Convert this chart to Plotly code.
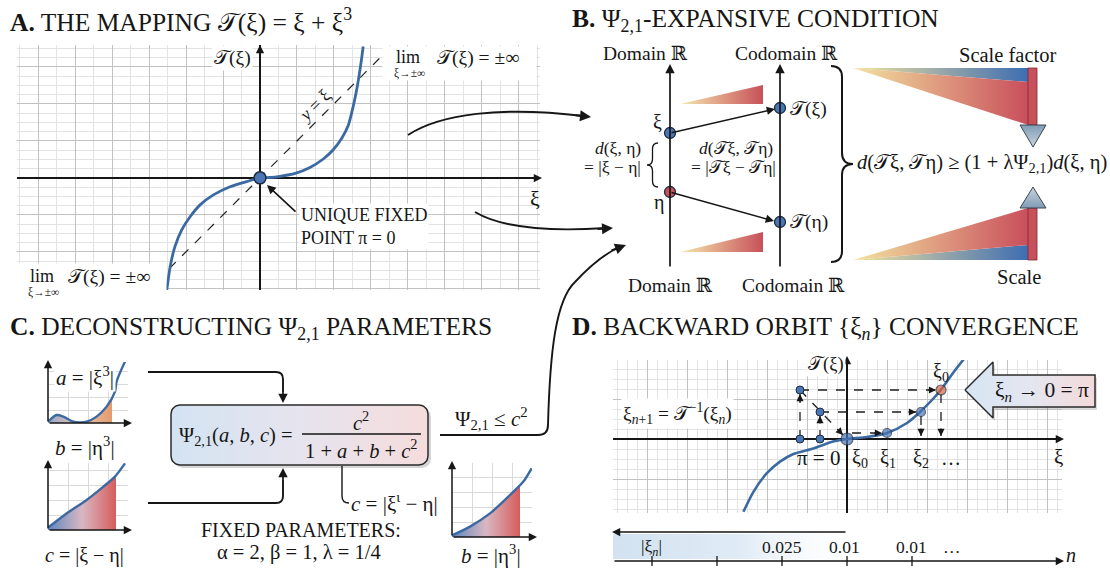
import numpy as np
import plotly.graph_objects as go

W, H = 1110, 568
SERIF = "Liberation Serif, Times New Roman, DejaVu Serif, serif"
INK = "#161616"
CURVE = "#3b6aa3"
PT_BLUE = "#4a76b3"
PT_RED = "#c65257"
PT_ORANGE = "#d9653f"
EDGE = "#1d2a45"
TS = "𝒯"

# ------------------------------------------------------------------ data
# Panel A : the mapping T(xi) (1 unit = one major grid square)
a_xi = [-2.52, -2.43, -2.30, -2.12, -1.89, -1.62, -1.26, -0.81, -0.36, 0.0,
        0.27, 0.54, 0.95, 1.35, 1.71, 1.98, 2.21, 2.39, 2.52, 2.63, 2.73, 2.79]
a_T = [-3.03, -2.40, -1.86, -1.41, -1.05, -0.73, -0.46, -0.24, -0.10, 0.0,
       0.01, 0.04, 0.12, 0.28, 0.51, 0.76, 1.07, 1.43, 1.93, 2.47, 3.10, 3.55]
a_diag_xi = [-2.45, 3.45]
a_diag_y = [-2.45, 3.45]
a_fixed_xi = [0.0]
a_fixed_T = [0.0]

# Panel C : three small parameter sketches
c1_x = [0.0, 0.43, 0.77, 1.27, 1.93, 2.43, 2.93, 3.35, 3.43, 3.85]
c1_y = [0.07, 0.40, 0.32, 0.07, 0.07, 0.32, 0.82, 1.57, 2.07, 3.07]
c1_fill_x = [0.0, 0.43, 0.77, 1.27, 1.93, 2.43, 2.93, 3.2]
c1_fill_y = [0.07, 0.40, 0.32, 0.07, 0.07, 0.32, 0.82, 1.25]
c2_x = [0.0, 0.93, 1.93, 2.77, 3.35, 3.85]
c2_y = [0.12, 0.83, 1.50, 2.17, 2.67, 3.33]
c2_fill_x = [0.0, 0.93, 1.93, 2.77, 3.35, 3.4]
c2_fill_y = [0.12, 0.83, 1.50, 2.17, 2.67, 2.72]
c3_x = [0.0, 0.9, 1.9, 2.9, 3.57, 3.98]
c3_y = [0.08, 0.52, 1.18, 2.10, 2.77, 3.43]
c3_fill_x = [0.0, 0.9, 1.9, 2.9, 3.4]
c3_fill_y = [0.08, 0.52, 1.18, 2.10, 2.58]

# Panel D : curve and backward orbit
d_xi = [-5.18, -4.68, -4.02, -3.35, -2.68, -1.68, -0.7, 0.0, 1.0, 2.0, 3.0, 3.65, 4.65, 5.3, 6.0]
d_T = [-3.64, -2.64, -1.72, -1.13, -0.75, -0.47, -0.13, 0.0, 0.10, 0.30, 0.80, 1.35, 2.40, 3.30, 4.20]
orbit_xi = [0.0, 2.0, 3.7, 4.7]          # pi=xi0, xi1, xi2, xi0(start)
orbit_T = [0.0, 0.3, 1.35, 2.45]
back_xi = [-2.35, -1.35]                 # pre-images on the left
back_T = [2.45, 1.35]
d_scale_labels = ["|ξ<sub><i>n</i></sub>|", "0.025", "0.01", "0.01", "…"]

# ------------------------------------------------------------------ helpers
fig = go.Figure()
annotations, shapes = [], []


def ann(x, y, text, size=19, xanchor="center", yanchor="middle", bg=None, angle=0,
        color=INK, xr="x6", yr="y6", align="center"):
    d = dict(x=x, y=y, xref=xr, yref=yr, text=text, showarrow=False, align=align,
             font=dict(family=SERIF, size=size, color=color),
             xanchor=xanchor, yanchor=yanchor, textangle=angle, borderpad=1)
    if bg:
        d["bgcolor"] = bg
    annotations.append(d)


def box(x0, y0, x1, y1, color="white"):
    annotations.append(dict(x=(x0 + x1) / 2, y=(y0 + y1) / 2, xref="x6", yref="y6", text=" ",
                            showarrow=False, width=x1 - x0, height=y1 - y0, bgcolor=color,
                            borderpad=0, font=dict(size=4)))


def arrow(x0, y0, x1, y1, width=1.5, head=2, size=1.1, color=INK, xr="x6", yr="y6"):
    annotations.append(dict(x=x1, y=y1, ax=x0, ay=y0, xref=xr, yref=yr, axref=xr, ayref=yr,
                            text="", showarrow=True, arrowhead=head, arrowsize=size,
                            arrowwidth=width, arrowcolor=color, standoff=0, startstandoff=0))


def path(d, w=1.9, color=INK, fill=None):
    s = dict(type="path", path=d, xref="x6", yref="y6", line=dict(color=color, width=w))
    if fill:
        s["fillcolor"] = fill
    shapes.append(s)


def line(x0, y0, x1, y1, w=1.5, color=INK):
    shapes.append(dict(type="line", x0=x0, y0=y0, x1=x1, y1=y1, xref="x6", yref="y6",
                       line=dict(color=color, width=w)))


def poly(xs, ys, c0, c1, orient="horizontal", lc=None, lw=0, mid=None):
    cs = [[0, c0], [1, c1]] if mid is None else [[0, c0], [0.5, mid], [1, c1]]
    fig.add_trace(go.Scatter(x=xs, y=ys, xaxis="x6", yaxis="y6", mode="lines", fill="toself",
                             fillgradient=dict(type=orient, colorscale=cs),
                             line=dict(color=lc or "rgba(0,0,0,0)", width=lw),
                             hoverinfo="skip", showlegend=False))


def brace(x0, y1, y2, w, r):
    xs = x0 + w / 2
    xt = x0 + w
    ym = (y1 + y2) / 2
    return (f"M{x0},{y1} Q{xs},{y1} {xs},{y1 + r} L{xs},{ym - r} Q{xs},{ym} {xt},{ym} "
            f"Q{xs},{ym} {xs},{ym + r} L{xs},{y2 - r} Q{xs},{y2} {x0},{y2}")


def rrect(x0, y0, x1, y1, r, n=9):
    xs, ys = [], []
    for cx, cy, t0, t1 in [(x1 - r, y0 + r, -90, 0), (x1 - r, y1 - r, 0, 90),
                           (x0 + r, y1 - r, 90, 180), (x0 + r, y0 + r, 180, 270)]:
        for t in np.linspace(t0, t1, n):
            xs.append(cx + r * np.cos(np.radians(t)))
            ys.append(cy + r * np.sin(np.radians(t)))
    xs.append(xs[0]); ys.append(ys[0])
    return xs, ys


TITLE = 25.5

# ------------------------------------------------------------------ panel A
fig.add_trace(go.Scatter(x=a_diag_xi, y=a_diag_y, xaxis="x", yaxis="y", mode="lines",
                         line=dict(color="#222", width=1.2, dash="dash"), showlegend=False))
fig.add_trace(go.Scatter(x=a_xi, y=a_T, xaxis="x", yaxis="y", mode="lines",
                         line=dict(color=CURVE, width=2.8, shape="spline", smoothing=0.5),
                         showlegend=False))
fig.add_trace(go.Scatter(x=a_fixed_xi, y=a_fixed_T, xaxis="x", yaxis="y", mode="markers",
                         marker=dict(size=12, color=PT_BLUE, line=dict(color=EDGE, width=1.5)),
                         showlegend=False))

ann(8, 20, f"<b>A.</b> THE MAPPING {TS}(ξ) = ξ + ξ<sup>3</sup>", size=TITLE, xanchor="left")
arrow(260, 62, 260, 45)
arrow(522, 178, 542, 178)
ann(232, 58, f"{TS}(ξ)", size=19.5, bg="white")
ann(535, 198, "ξ", size=22)
ann(314, 106, "<i>y</i> = ξ", size=18, angle=-45)
box(383, 47, 536, 80)
ann(408, 57, "lim", size=18)
ann(409, 73, "ξ→±∞", size=11.5)
ann(435, 58, f"{TS}(ξ) = ±∞", size=19.5, xanchor="left")
box(17, 264, 166, 299)
ann(42, 276, "lim", size=18)
ann(43, 292, "ξ→±∞", size=11.5)
ann(66, 277, f"{TS}(ξ) = ±∞", size=19.5, xanchor="left")
ann(299, 226, "UNIQUE FIXED<br>POINT π = 0", size=18, xanchor="left", bg="white",
    align="left")
arrow(297, 213, 267, 185, width=1.6)
# curved connectors A -> B
path("M408,135 C440,114 500,106 584,116")
arrow(574, 115, 591, 117, width=2)
path("M475,212 C500,227 545,232 606,228")
arrow(596, 229, 613, 228, width=2)

# ------------------------------------------------------------------ panel B
ann(570, 20, "<b>B.</b> Ψ<sub>2,1</sub>-EXPANSIVE CONDITION", size=TITLE, xanchor="left")
ann(645, 53, "Domain ℝ", size=19.5)
ann(786, 53, "Codomain ℝ", size=19.5)
ann(670, 285, "Domain ℝ", size=19.5)
ann(793, 285, "Codomain ℝ", size=19.5)
arrow(670, 268, 670, 64, width=1.7)
arrow(780, 268, 780, 64, width=1.7)
poly([680, 763, 763, 680], [104, 85, 104, 104], "#f6e9ae", "#c8505a")
poly([680, 763, 763, 680], [252, 232, 252, 252], "#f6e9ae", "#c8505a")
arrow(670, 133, 775, 109, width=1.5)
arrow(670, 192, 774, 221, width=1.5)
fig.add_trace(go.Scatter(x=[670, 670, 780, 780], y=[133, 192, 108, 222], xaxis="x6", yaxis="y6",
                         mode="markers", hoverinfo="skip", showlegend=False,
                         marker=dict(size=11, color=[PT_BLUE, PT_RED, PT_BLUE, PT_BLUE],
                                     line=dict(color=EDGE, width=1.3))))
ann(657, 122, "ξ", size=20)
ann(659, 202, "η", size=20)
ann(788, 109, f"{TS}(ξ)", size=19.5, xanchor="left")
ann(788, 222, f"{TS}(η)", size=19.5, xanchor="left")
ann(643, 148, "<i>d</i>(ξ, η)", size=17.5, xanchor="right")
ann(643, 167, "= |ξ − η|", size=17.5, xanchor="right")
path(brace(658, 143, 187, -11, 6), w=1.3)
ann(736, 148, f"<i>d</i>({TS}ξ, {TS}η)", size=17.5)
ann(733, 167, f"= |{TS}ξ − {TS}η|", size=17.5)
path(brace(831, 66, 262, 22, 11), w=2.0)
ann(855, 163, f"<i>d</i>({TS}ξ, {TS}η) ≥ (1 + λΨ<sub>2,1</sub>)<i>d</i>(ξ, η)", size=20.5,
    xanchor="left")
# scale-factor wedges
poly([853, 1028, 1028, 853], [68, 68, 82, 68], "#f3e3a0", "#3e6db2")
poly([853, 1028, 1028, 853], [68, 82, 125, 68], "#f3e3a0", "#c94f5c")
poly([1028, 1037, 1037, 1028, 1028], [68, 68, 125, 125, 68], "#c8505a", "#c8505a", lc="#7a2a30", lw=0.8)
poly([1020, 1046, 1033, 1020], [125, 125, 147, 125], "#c9d4dd", "#7f9cb6", orient="vertical",
     lc="#3c4650", lw=1)
poly([853, 1028, 1028, 853], [260, 260, 245, 260], "#f3e3a0", "#3e6db2")
poly([853, 1028, 1028, 853], [260, 245, 208, 260], "#f3e3a0", "#c94f5c")
poly([1028, 1037, 1037, 1028, 1028], [208, 208, 260, 260, 208], "#c8505a", "#c8505a", lc="#7a2a30", lw=0.8)
poly([1020, 1046, 1033, 1020], [208, 208, 187, 208], "#7f9cb6", "#c9d4dd", orient="vertical",
     lc="#3c4650", lw=1)
ann(1007, 55, "Scale factor", size=20.5)
ann(1019, 277, "Scale", size=20.5)

# ------------------------------------------------------------------ panel C
ann(8, 328, "<b>C.</b> DECONSTRUCTING Ψ<sub>2,1</sub> PARAMETERS", size=TITLE, xanchor="left")
for xs, ys, fx, fy, xa, ya, c0, cm, c1 in [
        (c1_x, c1_y, c1_fill_x, c1_fill_y, "x3", "y3", "#9aa6cc", "#e9c8b0", "#e49a6c"),
        (c2_x, c2_y, c2_fill_x, c2_fill_y, "x4", "y4", "#5f87be", "#d9b7c2", "#d75c5c"),
        (c3_x, c3_y, c3_fill_x, c3_fill_y, "x5", "y5", "#5f87be", "#d9b7c2", "#d75c5c")]:
    fig.add_trace(go.Scatter(x=fx, y=fy, xaxis=xa, yaxis=ya, mode="lines", fill="tozeroy",
                             fillgradient=dict(type="horizontal",
                                               colorscale=[[0, c0], [0.5, cm], [1, c1]]),
                             line=dict(width=0, color="rgba(0,0,0,0)", shape="spline"),
                             hoverinfo="skip", showlegend=False))
    fig.add_trace(go.Scatter(x=xs, y=ys, xaxis=xa, yaxis=ya, mode="lines",
                             line=dict(color=CURVE, width=2.4, shape="spline", smoothing=0.8),
                             hoverinfo="skip", showlegend=False))
arrow(48, 423, 132, 423, width=1.5)
arrow(48, 423, 48, 360, width=1.5)
arrow(48, 530, 132, 530, width=1.5)
arrow(48, 530, 48, 460, width=1.5)
arrow(452, 537, 537, 537, width=1.5)
arrow(452, 537, 452, 461, width=1.5)
ann(85, 376, "<i>a</i> = |ξ<sup>3</sup>|", size=21, bg="white")
ann(85, 446, "<i>b</i> = |η<sup>3</sup>|", size=21)
ann(84, 555, "<i>c</i> = |ξ − η|", size=20)
ann(491, 554, "<i>b</i> = |η<sup>3</sup>|", size=21)
# connectors into the box
path("M148,372 L276,372 Q283,372 283,379 L283,392")
arrow(283, 390, 283, 403, width=1.7)
path("M148,503 L276,503 Q283,503 283,496 L283,480")
arrow(283, 482, 283, 468, width=1.7)
# formula box
sx, sy = rrect(174, 408, 431, 468, 9)
fig.add_trace(go.Scatter(x=sx, y=sy, xaxis="x6", yaxis="y6", mode="lines", fill="toself",
                         fillcolor="rgba(0,0,0,0.16)", line=dict(width=0, color="rgba(0,0,0,0)"),
                         hoverinfo="skip", showlegend=False))
bx, by = rrect(171, 405, 428, 465, 9)
poly(bx, by, "#d3e3f2", "#f5dcdc", lc="#2b2b2b", lw=1.5, mid="#e6e4ee")
ann(236, 436, "Ψ<sub>2,1</sub>(<i>a</i>, <i>b</i>, <i>c</i>) =", size=20.5)
ann(361, 421, "<i>c</i><sup>2</sup>", size=20.5)
line(302, 434, 421, 434, w=1.3)
ann(361, 449, "1 + <i>a</i> + <i>b</i> + <i>c</i><sup>2</sup>", size=20.5)
path("M342,466 L342,496 Q342,503 349,503", w=1.4)
ann(349, 502, "<i>c</i> = |ξ<sup>ι</sup> − η|", size=21, xanchor="left")
ann(301, 530, "FIXED PARAMETERS:", size=20)
ann(299, 552, "α = 2, β = 1, λ = 1/4", size=20.5)
ann(491, 418, "Ψ<sub>2,1</sub> ≤ <i>c</i><sup>2</sup>", size=21)
path("M440,435 L538,435 Q548,435 548,425 C550,350 556,300 575,282 C590,266 604,254 618,248")
arrow(610, 251, 626, 245, width=2)

# ------------------------------------------------------------------ panel D
ann(570, 328, "<b>D.</b> BACKWARD ORBIT {ξ<sub><i>n</i></sub>} CONVERGENCE", size=TITLE, xanchor="left")
fig.add_trace(go.Scatter(x=d_xi, y=d_T, xaxis="x2", yaxis="y2", mode="lines",
                         line=dict(color=CURVE, width=2.6, shape="spline", smoothing=0.7),
                         hoverinfo="skip", showlegend=False))
DASH = dict(color="#1e1e1e", width=1.3, dash="dash")


def dseg(x0, y0, x1, y1, head=True):
    fig.add_trace(go.Scatter(x=[x0, x1], y=[y0, y1], xaxis="x2", yaxis="y2", mode="lines",
                             line=DASH, hoverinfo="skip", showlegend=False))
    if head:
        L = np.hypot(x1 - x0, y1 - y0)
        ux, uy = (x1 - x0) / L, (y1 - y0) / L
        arrow(x1 - 0.45 * ux, y1 - 0.45 * uy, x1, y1, width=1.3, xr="x2", yr="y2")


# horizontals from pre-images to the orbit points on the curve
dseg(back_xi[0], back_T[0], orbit_xi[3] - 0.25, orbit_T[3])
dseg(back_xi[1], back_T[1], orbit_xi[2] - 0.25, orbit_T[2])
dseg(orbit_xi[0] + 0.25, orbit_T[1], orbit_xi[1] - 0.25, orbit_T[1])
# verticals on the left (up) and right (down)
dseg(back_xi[0], 0, back_xi[0], back_T[0] - 0.2)
dseg(back_xi[1], 0, back_xi[1], back_T[1] - 0.2)
dseg(orbit_xi[2], orbit_T[2] - 0.2, orbit_xi[2], 0.15)
dseg(orbit_xi[3], orbit_T[3] - 0.2, orbit_xi[3], 0.15)
# diagonal towards the fixed point
dseg(back_xi[0], back_T[0], orbit_xi[0] - 0.2, orbit_T[0] + 0.2)
fig.add_trace(go.Scatter(x=back_xi + back_xi, y=back_T + [0, 0], xaxis="x2", yaxis="y2",
                         mode="markers", hoverinfo="skip", showlegend=False,
                         marker=dict(size=8, color=PT_BLUE, line=dict(color=EDGE, width=1))))
fig.add_trace(go.Scatter(x=orbit_xi, y=orbit_T, xaxis="x2", yaxis="y2", mode="markers",
                         hoverinfo="skip", showlegend=False,
                         marker=dict(size=[12, 9, 9, 10],
                                     color=[PT_BLUE, PT_BLUE, PT_BLUE, PT_ORANGE],
                                     line=dict(color=EDGE, width=1.2))))
arrow(847, 372, 847, 356)
arrow(1046, 439, 1064, 439)
ann(826, 364, f"{TS}(ξ)", size=18.5, bg="white")
ann(1058, 457, "ξ", size=21)
ann(677, 413, f"ξ<sub><i>n</i>+1</sub> = {TS}<sup>−1</sup>(ξ<sub><i>n</i></sub>)", size=19.5, bg="white")
ann(818, 458, "π = 0", size=21)
for xx, tt in zip([860, 888, 921, 951], ["ξ<sub>0</sub>", "ξ<sub>1</sub>", "ξ<sub>2</sub>", "…"]):
    ann(xx, 458, tt, size=20)
ann(941, 372, "ξ<sub>0</sub>", size=20)
# block arrow
px_ = [965, 993, 993, 1095, 1095, 993, 993, 965]
py_ = [390, 362, 375, 375, 407, 407, 418, 390]
fig.add_trace(go.Scatter(x=[p + 2 for p in px_], y=[p + 3 for p in py_], xaxis="x6", yaxis="y6",
                         mode="lines", fill="toself", fillcolor="rgba(0,0,0,0.15)",
                         line=dict(width=0, color="rgba(0,0,0,0)"), hoverinfo="skip",
                         showlegend=False))
poly(px_, py_, "#d6e5f3", "#f3dada", lc="#2b2b2b", lw=1.5, mid="#e4e6f0")
ann(1042, 391, "ξ<sub><i>n</i></sub> → 0 = π", size=21.5)
# |xi_n| scale strip
poly([613, 868, 868, 613, 613], [534, 534, 559, 559, 534], "#d2e2f1", "rgba(255,255,255,0)",
     mid="#e0ebf5")
arrow(847, 532, 612, 532, width=1.5)
arrow(613, 561, 1064, 561, width=1.5)
for tx in [652, 717, 782, 847, 912]:
    line(tx, 556, tx, 566, w=1.3)
for xx, tt in zip([651, 782, 844, 911, 952], d_scale_labels):
    ann(xx, 547, tt, size=17.5)
ann(1071, 555, "<i>n</i>", size=20)

# ------------------------------------------------------------------ layout


def gaxis(dom, rng, dtick, mdtick, anchor, zero=False, gc="#c2c2c2", mc="#e3e3e3"):
    d = dict(domain=dom, range=rng, anchor=anchor, showticklabels=False, ticks="",
             showline=False, showgrid=True, gridcolor=gc, gridwidth=1, dtick=dtick, tick0=0,
             zeroline=zero, zerolinecolor=INK, zerolinewidth=1.6, fixedrange=True)
    if mdtick:
        d["minor"] = dict(dtick=mdtick, showgrid=True, gridcolor=mc, gridwidth=1, ticks="")
    return d


def px2x(a, b):
    return [a / W, b / W]


def px2y(top, bottom):
    return [1 - bottom / H, 1 - top / H]


fig.update_layout(
    width=W, height=H, margin=dict(l=0, r=0, t=0, b=0),
    paper_bgcolor="white", plot_bgcolor="rgba(0,0,0,0)", showlegend=False,
    xaxis=gaxis(px2x(17, 540), [-6.57, 7.57], 1, 0.5, "y", zero=True),
    yaxis=gaxis(px2y(45, 290), [-3.03, 3.59], 1, 0.25, "x", zero=True),
    xaxis2=gaxis(px2x(613, 1062), [-11.7, 10.75], 2, 0.5, "y2", zero=True),
    yaxis2=gaxis(px2y(360, 513), [-3.7, 3.95], 2, 0.5, "x2", zero=True),
    xaxis3=gaxis(px2x(48, 128), [0, 4], 1, None, "y3", gc="#dadada"),
    yaxis3=gaxis(px2y(362, 423), [0, 3.05], 0.65, None, "x3", gc="#dadada"),
    xaxis4=gaxis(px2x(48, 128), [0, 4], 1, None, "y4", gc="#dadada"),
    yaxis4=gaxis(px2y(463, 530), [0, 3.35], 0.75, None, "x4", gc="#dadada"),
    xaxis5=gaxis(px2x(452, 532), [0, 4], 1, None, "y5", gc="#dadada"),
    yaxis5=gaxis(px2y(463, 537), [0, 3.7], 0.75, None, "x5", gc="#dadada"),
    xaxis6=dict(domain=[0, 1], range=[0, W], visible=False, anchor="y6", fixedrange=True),
    yaxis6=dict(domain=[0, 1], range=[H, 0], visible=False, anchor="x6", fixedrange=True),
    annotations=annotations, shapes=shapes,
)

fig.write_html("out.html", config={"displayModeBar": False},
               post_script="document.body.style.margin='0px';"
                           "document.body.style.overflow='hidden';")
